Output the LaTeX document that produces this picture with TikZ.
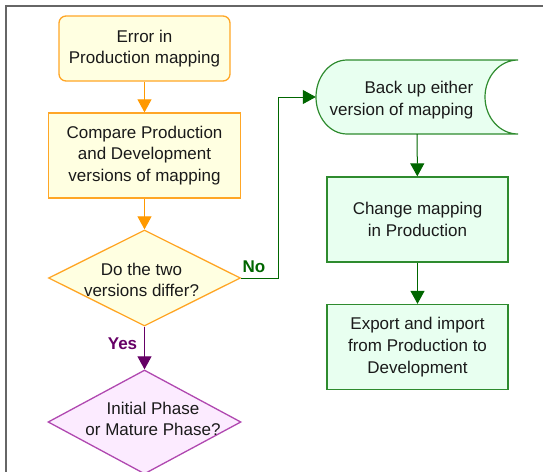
\documentclass[tikz,border=0pt]{standalone}
\usepackage{fontspec}
\setmainfont{Liberation Sans}
\usetikzlibrary{shapes.geometric,arrows.meta}

\definecolor{frameline}{HTML}{666666}
\definecolor{orangeline}{HTML}{FFA626}
\definecolor{orangearrow}{HTML}{FF9900}
\definecolor{paleyellow}{HTML}{FFFFE1}
\definecolor{greenline}{HTML}{2E8B2E}
\definecolor{greenfill}{HTML}{E8FFF0}
\definecolor{greenarrow}{HTML}{006600}
\definecolor{purpleline}{HTML}{B048B0}
\definecolor{purplearrow}{HTML}{660066}
\definecolor{purplefill}{HTML}{FCEBFF}
\definecolor{inktext}{HTML}{1A1A1A}

\tikzset{
  txt/.style={font=\fontsize{17}{21.7}\selectfont, text=inktext, align=center, inner sep=0pt},
  yellowbox/.style={txt, draw=orangeline, fill=paleyellow, line width=1.3pt},
  greenbox/.style={txt, draw=greenline, fill=greenfill, line width=1.3pt,
                   minimum width=181, minimum height=85},
  decision/.style={diamond, shape aspect=2, inner sep=0pt, line width=1.3pt},
  connector/.style={line width=1pt, -{Triangle[width=14pt,length=13pt]}},
  branchlabel/.style={font=\fontsize{17}{20}\bfseries\selectfont, inner sep=0pt},
}

\begin{document}
\begin{tikzpicture}[x=1pt,y=-1pt]
\useasboundingbox (0,0) rectangle (543,471);

% outer frame
\draw[frameline, line width=2pt] (5.8,480) -- (5.8,5.8) -- (560,5.8);

% left column
\node[yellowbox, rounded corners=7pt, minimum width=171, minimum height=65]
  (start) at (144.5,48.5) {Error in\\Production mapping};
\node[yellowbox, minimum width=192, minimum height=85]
  (compare) at (144.5,155.5) {Compare Production\\and Development\\versions of mapping};
\node[decision, draw=orangeline, fill=paleyellow, minimum width=192, minimum height=96]
  (differ) at (144.5,278) {};
\node[txt] (differtext) at (141.5,280) {Do the two\\versions differ?};
\node[decision, draw=purpleline, fill=purplefill, minimum width=193, minimum height=104]
  (phase) at (144.5,422) {};
\node[txt] (phasetext) at (153,419) {Initial Phase\\or Mature Phase?};

% right column: stored-data shape
\node[inner sep=0pt, minimum width=202, minimum height=74] (backup) at (417,97) {};
\draw[greenline, fill=greenfill, line width=1.2pt]
  (347,60) arc[start angle=-90, end angle=-270, x radius=31, y radius=37]
  -- (518,134) arc[start angle=90, end angle=270, x radius=33, y radius=37] -- cycle;
\node[txt, align=right, anchor=east] (backuptext) at (473.5,100) {Back up either\\version of mapping};
\node[greenbox] (change) at (417.5,219.5) {Change mapping\\in Production};
\node[greenbox] (export) at (417.5,347) {Export and import\\from Production to\\Development};

% connectors
\draw[connector, orangearrow] (start) -- (compare);
\draw[connector, orangearrow] (compare) -- (differ);
\draw[connector, purplearrow] (differ) -- (phase);
\coordinate (nobend) at (278,97);
\draw[connector, greenarrow] (differ.east) -| (nobend) -- (backup.west);
\draw[connector, greenarrow] (backup) -- (change);
\draw[connector, greenarrow] (change) -- (export);

% branch labels
\node[branchlabel, text=purplearrow, anchor=base] (yeslabel) at (122.5,349) {Yes};
\node[branchlabel, text=greenarrow, anchor=base] (nolabel) at (254,272) {No};
\end{tikzpicture}
\end{document}
